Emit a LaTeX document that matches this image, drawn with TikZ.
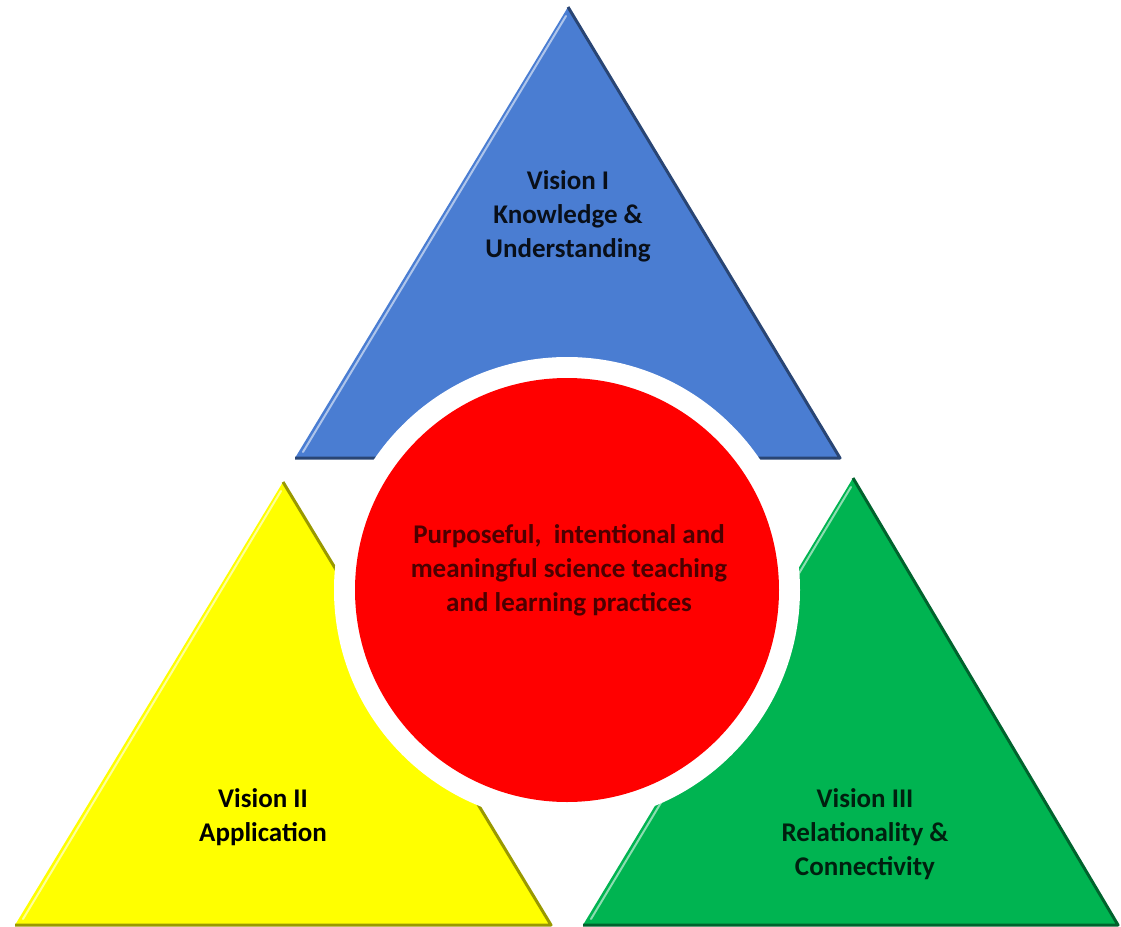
\documentclass[tikz,border=0pt]{standalone}
\usepackage{fontspec}
\setmainfont{Carlito}
\usetikzlibrary{calc}
\definecolor{visionblue}{HTML}{4A7DD2}
\definecolor{visionyellow}{HTML}{FFFF00}
\definecolor{visiongreen}{HTML}{00B451}
\definecolor{corered}{HTML}{FF0000}
\tikzset{
	vision/.style={font=\bfseries\fontsize{13.5}{17}\selectfont, align=center},
	edgedark/.style={line width=1.5pt, line join=round},
	edgelight/.style={line width=1pt, line cap=round}
}

\begin{document}
\begin{tikzpicture}[x=0.5pt, y=-0.5pt]
		%%%%% START %%%%%
		
		\useasboundingbox (0, 0) rectangle (1121, 927);
		
		% Vision I
		\fill[visionblue] (568, 7) -- (840, 458) -- (295, 458) -- cycle;
		\draw[edgedark, visionblue!55!black] (295, 458) -- (840, 458) -- (568, 7);
		\draw[edgelight, visionblue!45!white] (303, 452) -- (566, 16);
		
		% Vision II
		\fill[visionyellow] (283, 482) -- (551, 925) -- (15, 925) -- cycle;
		\draw[edgedark, visionyellow!60!black] (15, 925) -- (551, 925) -- (283, 482);
		\draw[edgelight, visionyellow!40!white] (23, 919) -- (281, 491);
		
		% Vision III
		\fill[visiongreen] (853, 478) -- (1118, 925) -- (583, 925) -- cycle;
		\draw[edgedark, visiongreen!55!black] (583, 925) -- (1118, 925) -- (853, 478);
		\draw[edgelight, visiongreen!45!white] (591, 919) -- (851, 487);
		
		% ring and core
		\fill[white] (567, 590) circle (233);
		\fill[corered] (567, 590) circle (212);
		
		\node[vision, text=visionblue!12!black] (visionone) at (568, 216)
			{Vision I\\Knowledge \&\\Understanding};
		\node[vision, text=black] (visiontwo) at (263, 817)
			{Vision II\\Application};
		\node[vision, text=visiongreen!18!black] (visionthree) at (865, 834)
			{Vision III\\Relationality \&\\Connectivity};
		\node[vision, text=corered!30!black] (core) at (569, 570)
			{Purposeful,~ intentional and\\meaningful science teaching\\and learning practices};
		
		%%%%% END %%%%%
\end{tikzpicture}
\end{document}
